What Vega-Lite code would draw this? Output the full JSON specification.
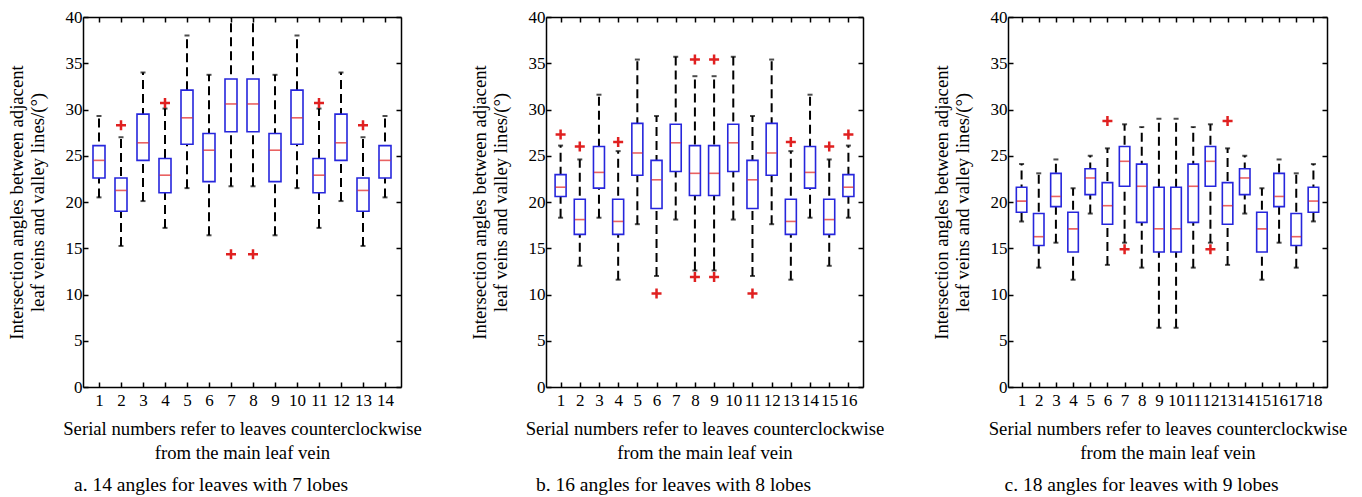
{
  "$schema": "https://vega.github.io/schema/vega-lite/v6.json",
  "background": "white",
  "padding": {"left": 7, "top": 8, "right": 5, "bottom": 2},
  "spacing": 48,
  "config": {
    "view": {"stroke": null},
    "axis": {"domainColor": "black", "tickColor": "black", "labelColor": "black", "titleColor": "black", "labelFont": "Liberation Serif, Times New Roman, serif", "titleFont": "Liberation Serif, Times New Roman, serif", "labelFontSize": 17, "titleFontSize": 18.7, "titleFontWeight": "normal", "grid": false, "tickSize": -5, "domainWidth": 1.5, "tickWidth": 1.5},
    "axisX": {"labelPadding": 10},
    "axisY": {"labelPadding": 6},
    "title": {"font": "Liberation Serif, Times New Roman, serif", "fontSize": 19.5, "fontWeight": "normal", "color": "black"}
  },
  "hconcat": [
    {
      "width": 318, "height": 370,
      "title": {"text": "a. 14 angles for leaves with 7 lobes", "orient": "bottom", "anchor": "middle", "frame": "group", "offset": 14, "dx": -31},
      "data": {"values": [
        {"idx": 1, "lo": 20.5, "q1": 22.6, "med": 24.5, "q3": 26.1, "hi": 29.3},
        {"idx": 2, "lo": 15.25, "q1": 19.0, "med": 21.25, "q3": 22.6, "hi": 27.0},
        {"idx": 3, "lo": 20.1, "q1": 24.5, "med": 26.4, "q3": 29.5, "hi": 34.0},
        {"idx": 4, "lo": 17.2, "q1": 21.0, "med": 22.9, "q3": 24.7, "hi": 30.1},
        {"idx": 5, "lo": 21.5, "q1": 26.25, "med": 29.1, "q3": 32.1, "hi": 38.0},
        {"idx": 6, "lo": 16.4, "q1": 22.2, "med": 25.6, "q3": 27.4, "hi": 33.75},
        {"idx": 7, "lo": 21.7, "q1": 27.6, "med": 30.6, "q3": 33.3, "hi": 40.8},
        {"idx": 8, "lo": 21.7, "q1": 27.6, "med": 30.6, "q3": 33.3, "hi": 40.8},
        {"idx": 9, "lo": 16.4, "q1": 22.2, "med": 25.6, "q3": 27.4, "hi": 33.75},
        {"idx": 10, "lo": 21.5, "q1": 26.25, "med": 29.1, "q3": 32.1, "hi": 38.0},
        {"idx": 11, "lo": 17.2, "q1": 21.0, "med": 22.9, "q3": 24.7, "hi": 30.1},
        {"idx": 12, "lo": 20.1, "q1": 24.5, "med": 26.4, "q3": 29.5, "hi": 34.0},
        {"idx": 13, "lo": 15.25, "q1": 19.0, "med": 21.25, "q3": 22.6, "hi": 27.0},
        {"idx": 14, "lo": 20.5, "q1": 22.6, "med": 24.5, "q3": 26.1, "hi": 29.3}
      ]},
      "resolve": {"axis": {"x": "independent", "y": "independent"}},
      "layer": [
        {"mark": {"type": "rule", "color": "black", "strokeWidth": 2, "strokeDash": [9, 5], "clip": true},
         "encoding": {
           "x": {"field": "idx", "type": "quantitative", "scale": {"domain": [0.5, 14.5], "nice": false, "zero": false}, "axis": {"values": [1,2,3,4,5,6,7,8,9,10,11,12,13,14], "format": "d", "title": ["Serial numbers refer to leaves counterclockwise", "from the main leaf vein"], "titleLineHeight": 24, "titlePadding": 11}},
           "y": {"field": "lo", "type": "quantitative", "scale": {"domain": [0, 40], "nice": false}, "axis": {"values": [0,5,10,15,20,25,30,35,40], "title": ["Intersection angles between adjacent", "leaf veins and valley lines/(°)"], "titleLineHeight": 21, "titlePadding": 18}},
           "y2": {"field": "hi"}
         }},
        {"mark": {"type": "tick", "orient": "horizontal", "color": "black", "thickness": 2, "size": 5, "clip": true},
         "encoding": {"x": {"field": "idx", "type": "quantitative", "axis": {"orient": "top", "labels": false, "title": null, "values": [1,2,3,4,5,6,7,8,9,10,11,12,13,14]}}, "y": {"field": "hi", "type": "quantitative", "axis": {"orient": "right", "labels": false, "title": null, "values": [0,5,10,15,20,25,30,35,40]}}}},
        {"mark": {"type": "tick", "orient": "horizontal", "color": "black", "thickness": 2, "size": 5},
         "encoding": {"x": {"field": "idx", "type": "quantitative", "axis": null}, "y": {"field": "lo", "type": "quantitative", "axis": null}}},
        {"mark": {"type": "bar", "fill": "white", "stroke": "#2626dc", "strokeWidth": 1.6, "width": 12},
         "encoding": {"x": {"field": "idx", "type": "quantitative", "axis": null}, "y": {"field": "q1", "type": "quantitative", "axis": null}, "y2": {"field": "q3"}}},
        {"mark": {"type": "tick", "orient": "horizontal", "color": "#e02020", "thickness": 1.6, "size": 11},
         "encoding": {"x": {"field": "idx", "type": "quantitative", "axis": null}, "y": {"field": "med", "type": "quantitative", "axis": null}}},
        {"data": {"values": [{"idx": 2, "v": 28.3}, {"idx": 4, "v": 30.7}, {"idx": 7, "v": 14.35}, {"idx": 8, "v": 14.35}, {"idx": 11, "v": 30.7}, {"idx": 13, "v": 28.3}]},
         "mark": {"type": "point", "shape": "M-1,0H1M0,-1V1", "filled": false, "stroke": "#e02020", "strokeWidth": 2.5, "size": 100, "opacity": 1},
         "encoding": {"x": {"field": "idx", "type": "quantitative", "axis": null}, "y": {"field": "v", "type": "quantitative", "axis": null}}}
      ]
    },
    {
      "width": 317, "height": 370,
      "title": {"text": "b. 16 angles for leaves with 8 lobes", "orient": "bottom", "anchor": "middle", "frame": "group", "offset": 14, "dx": -31},
      "data": {"values": [
        {"idx": 1, "lo": 18.3, "q1": 20.6, "med": 21.6, "q3": 22.96, "hi": 26.1},
        {"idx": 2, "lo": 13.1, "q1": 16.5, "med": 18.1, "q3": 20.3, "hi": 24.6},
        {"idx": 3, "lo": 18.3, "q1": 21.5, "med": 23.2, "q3": 26.0, "hi": 31.6},
        {"idx": 4, "lo": 11.6, "q1": 16.5, "med": 17.9, "q3": 20.3, "hi": 25.5},
        {"idx": 5, "lo": 17.6, "q1": 22.9, "med": 25.3, "q3": 28.5, "hi": 35.4},
        {"idx": 6, "lo": 12.0, "q1": 19.3, "med": 22.4, "q3": 24.5, "hi": 29.3},
        {"idx": 7, "lo": 18.1, "q1": 23.3, "med": 26.4, "q3": 28.4, "hi": 35.7},
        {"idx": 8, "lo": 12.6, "q1": 20.7, "med": 23.1, "q3": 26.1, "hi": 33.6},
        {"idx": 9, "lo": 12.6, "q1": 20.7, "med": 23.1, "q3": 26.1, "hi": 33.6},
        {"idx": 10, "lo": 18.1, "q1": 23.3, "med": 26.4, "q3": 28.4, "hi": 35.7},
        {"idx": 11, "lo": 12.0, "q1": 19.3, "med": 22.4, "q3": 24.5, "hi": 29.3},
        {"idx": 12, "lo": 17.6, "q1": 22.9, "med": 25.3, "q3": 28.5, "hi": 35.4},
        {"idx": 13, "lo": 11.6, "q1": 16.5, "med": 17.9, "q3": 20.3, "hi": 25.5},
        {"idx": 14, "lo": 18.3, "q1": 21.5, "med": 23.2, "q3": 26.0, "hi": 31.6},
        {"idx": 15, "lo": 13.1, "q1": 16.5, "med": 18.1, "q3": 20.3, "hi": 24.6},
        {"idx": 16, "lo": 18.3, "q1": 20.6, "med": 21.6, "q3": 22.96, "hi": 26.1}
      ]},
      "resolve": {"axis": {"x": "independent", "y": "independent"}},
      "layer": [
        {"mark": {"type": "rule", "color": "black", "strokeWidth": 2, "strokeDash": [9, 5], "clip": true},
         "encoding": {
           "x": {"field": "idx", "type": "quantitative", "scale": {"domain": [0.5, 16.5], "nice": false, "zero": false}, "axis": {"values": [1,2,3,4,5,6,7,8,9,10,11,12,13,14,15,16], "format": "d", "title": ["Serial numbers refer to leaves counterclockwise", "from the main leaf vein"], "titleLineHeight": 24, "titlePadding": 11}},
           "y": {"field": "lo", "type": "quantitative", "scale": {"domain": [0, 40], "nice": false}, "axis": {"values": [0,5,10,15,20,25,30,35,40], "title": ["Intersection angles between adjacent", "leaf veins and valley lines/(°)"], "titleLineHeight": 21, "titlePadding": 18}},
           "y2": {"field": "hi"}
         }},
        {"mark": {"type": "tick", "orient": "horizontal", "color": "black", "thickness": 2, "size": 5, "clip": true},
         "encoding": {"x": {"field": "idx", "type": "quantitative", "axis": {"orient": "top", "labels": false, "title": null, "values": [1,2,3,4,5,6,7,8,9,10,11,12,13,14,15,16]}}, "y": {"field": "hi", "type": "quantitative", "axis": {"orient": "right", "labels": false, "title": null, "values": [0,5,10,15,20,25,30,35,40]}}}},
        {"mark": {"type": "tick", "orient": "horizontal", "color": "black", "thickness": 2, "size": 5},
         "encoding": {"x": {"field": "idx", "type": "quantitative", "axis": null}, "y": {"field": "lo", "type": "quantitative", "axis": null}}},
        {"mark": {"type": "bar", "fill": "white", "stroke": "#2626dc", "strokeWidth": 1.6, "width": 11},
         "encoding": {"x": {"field": "idx", "type": "quantitative", "axis": null}, "y": {"field": "q1", "type": "quantitative", "axis": null}, "y2": {"field": "q3"}}},
        {"mark": {"type": "tick", "orient": "horizontal", "color": "#e02020", "thickness": 1.6, "size": 10},
         "encoding": {"x": {"field": "idx", "type": "quantitative", "axis": null}, "y": {"field": "med", "type": "quantitative", "axis": null}}},
        {"data": {"values": [{"idx": 1, "v": 27.3}, {"idx": 2, "v": 26.0}, {"idx": 4, "v": 26.5}, {"idx": 6, "v": 10.1}, {"idx": 8, "v": 35.4}, {"idx": 8, "v": 11.9}, {"idx": 9, "v": 35.4}, {"idx": 9, "v": 11.9}, {"idx": 11, "v": 10.1}, {"idx": 13, "v": 26.5}, {"idx": 15, "v": 26.0}, {"idx": 16, "v": 27.3}]},
         "mark": {"type": "point", "shape": "M-1,0H1M0,-1V1", "filled": false, "stroke": "#e02020", "strokeWidth": 2.5, "size": 100, "opacity": 1},
         "encoding": {"x": {"field": "idx", "type": "quantitative", "axis": null}, "y": {"field": "v", "type": "quantitative", "axis": null}}}
      ]
    },
    {
      "width": 319, "height": 370,
      "title": {"text": "c. 18 angles for leaves with 9 lobes", "orient": "bottom", "anchor": "middle", "frame": "group", "offset": 14, "dx": -26},
      "data": {"values": [
        {"idx": 1, "lo": 17.9, "q1": 18.9, "med": 20.1, "q3": 21.6, "hi": 24.1},
        {"idx": 2, "lo": 12.9, "q1": 15.3, "med": 16.25, "q3": 18.75, "hi": 23.1},
        {"idx": 3, "lo": 15.6, "q1": 19.5, "med": 20.6, "q3": 23.1, "hi": 24.6},
        {"idx": 4, "lo": 11.6, "q1": 14.6, "med": 17.1, "q3": 18.9, "hi": 21.5},
        {"idx": 5, "lo": 18.75, "q1": 20.8, "med": 22.6, "q3": 23.6, "hi": 25.0},
        {"idx": 6, "lo": 13.2, "q1": 17.6, "med": 19.6, "q3": 22.1, "hi": 25.8},
        {"idx": 7, "lo": 15.6, "q1": 21.7, "med": 24.4, "q3": 26.0, "hi": 28.4},
        {"idx": 8, "lo": 12.9, "q1": 17.8, "med": 21.7, "q3": 24.1, "hi": 28.1},
        {"idx": 9, "lo": 6.4, "q1": 14.6, "med": 17.1, "q3": 21.6, "hi": 29.0},
        {"idx": 10, "lo": 6.4, "q1": 14.6, "med": 17.1, "q3": 21.6, "hi": 29.0},
        {"idx": 11, "lo": 12.9, "q1": 17.8, "med": 21.7, "q3": 24.1, "hi": 28.1},
        {"idx": 12, "lo": 15.6, "q1": 21.7, "med": 24.4, "q3": 26.0, "hi": 28.4},
        {"idx": 13, "lo": 13.2, "q1": 17.6, "med": 19.6, "q3": 22.1, "hi": 25.8},
        {"idx": 14, "lo": 18.75, "q1": 20.8, "med": 22.6, "q3": 23.6, "hi": 25.0},
        {"idx": 15, "lo": 11.6, "q1": 14.6, "med": 17.1, "q3": 18.9, "hi": 21.5},
        {"idx": 16, "lo": 15.6, "q1": 19.5, "med": 20.6, "q3": 23.1, "hi": 24.6},
        {"idx": 17, "lo": 12.9, "q1": 15.3, "med": 16.25, "q3": 18.75, "hi": 23.1},
        {"idx": 18, "lo": 17.9, "q1": 18.9, "med": 20.1, "q3": 21.6, "hi": 24.1}
      ]},
      "resolve": {"axis": {"x": "independent", "y": "independent"}},
      "layer": [
        {"mark": {"type": "rule", "color": "black", "strokeWidth": 2, "strokeDash": [9, 5], "clip": true},
         "encoding": {
           "x": {"field": "idx", "type": "quantitative", "scale": {"domain": [0.5, 18.5], "nice": false, "zero": false}, "axis": {"values": [1,2,3,4,5,6,7,8,9,10,11,12,13,14,15,16,17,18], "format": "d", "title": ["Serial numbers refer to leaves counterclockwise", "from the main leaf vein"], "titleLineHeight": 24, "titlePadding": 11}},
           "y": {"field": "lo", "type": "quantitative", "scale": {"domain": [0, 40], "nice": false}, "axis": {"values": [0,5,10,15,20,25,30,35,40], "title": ["Intersection angles between adjacent", "leaf veins and valley lines/(°)"], "titleLineHeight": 21, "titlePadding": 18}},
           "y2": {"field": "hi"}
         }},
        {"mark": {"type": "tick", "orient": "horizontal", "color": "black", "thickness": 2, "size": 5, "clip": true},
         "encoding": {"x": {"field": "idx", "type": "quantitative", "axis": {"orient": "top", "labels": false, "title": null, "values": [1,2,3,4,5,6,7,8,9,10,11,12,13,14,15,16,17,18]}}, "y": {"field": "hi", "type": "quantitative", "axis": {"orient": "right", "labels": false, "title": null, "values": [0,5,10,15,20,25,30,35,40]}}}},
        {"mark": {"type": "tick", "orient": "horizontal", "color": "black", "thickness": 2, "size": 5},
         "encoding": {"x": {"field": "idx", "type": "quantitative", "axis": null}, "y": {"field": "lo", "type": "quantitative", "axis": null}}},
        {"mark": {"type": "bar", "fill": "white", "stroke": "#2626dc", "strokeWidth": 1.6, "width": 10.5},
         "encoding": {"x": {"field": "idx", "type": "quantitative", "axis": null}, "y": {"field": "q1", "type": "quantitative", "axis": null}, "y2": {"field": "q3"}}},
        {"mark": {"type": "tick", "orient": "horizontal", "color": "#e02020", "thickness": 1.6, "size": 9.5},
         "encoding": {"x": {"field": "idx", "type": "quantitative", "axis": null}, "y": {"field": "med", "type": "quantitative", "axis": null}}},
        {"data": {"values": [{"idx": 6, "v": 28.75}, {"idx": 7, "v": 14.9}, {"idx": 12, "v": 14.9}, {"idx": 13, "v": 28.75}]},
         "mark": {"type": "point", "shape": "M-1,0H1M0,-1V1", "filled": false, "stroke": "#e02020", "strokeWidth": 2.5, "size": 100, "opacity": 1},
         "encoding": {"x": {"field": "idx", "type": "quantitative", "axis": null}, "y": {"field": "v", "type": "quantitative", "axis": null}}}
      ]
    }
  ]
}
